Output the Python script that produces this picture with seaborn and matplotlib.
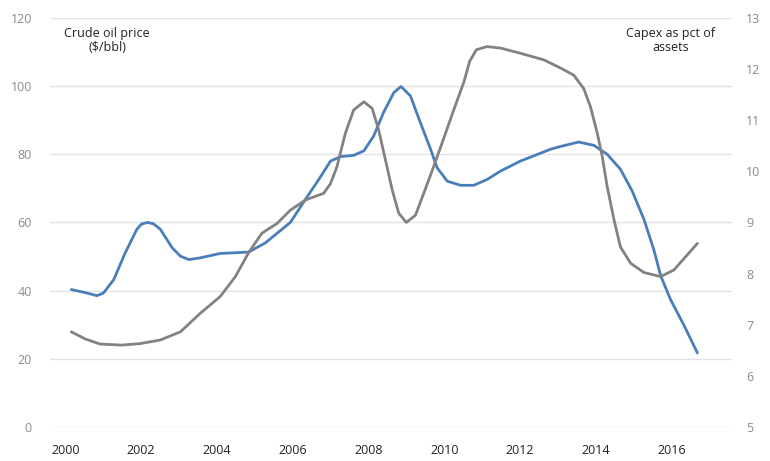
import pandas as pd
import numpy as np
import matplotlib
matplotlib.use("Agg")
import matplotlib.pyplot as plt
import seaborn as sns

# values
oil_year = [2000.16, 2000.53, 2000.84, 2001.01, 2001.28, 2001.58, 2001.89, 2002.01,
            2002.17, 2002.33, 2002.51, 2002.82, 2003.04, 2003.26, 2003.56, 2004.09,
            2004.84, 2005.28, 2005.94, 2006.34, 2006.69, 2007.00, 2007.26, 2007.61,
            2007.88, 2008.14, 2008.40, 2008.67, 2008.86, 2009.11, 2009.37, 2009.64,
            2009.81, 2010.08, 2010.43, 2010.78, 2011.13, 2011.49, 2012.01, 2012.81,
            2013.07, 2013.55, 2013.95, 2014.30, 2014.65, 2014.96, 2015.27, 2015.53,
            2015.71, 2015.97, 2016.34, 2016.68]
oil_price = [40.3, 39.4, 38.5, 39.3, 43.2, 51.0, 58.0, 59.5,
             60.0, 59.6, 58.0, 52.6, 50.1, 49.1, 49.6, 50.9,
             51.3, 54.0, 60.0, 66.8, 72.6, 78.0, 79.3, 79.7,
             81.0, 85.4, 92.3, 98.1, 99.9, 97.1, 89.3, 81.5,
             76.1, 72.1, 70.9, 70.9, 72.6, 75.1, 78.0, 81.5,
             82.3, 83.6, 82.6, 80.0, 75.6, 69.2, 60.9, 52.0,
             44.4, 37.4, 29.5, 21.7]

capex_year = [2000.16, 2000.53, 2000.92, 2001.50, 2001.98, 2002.51, 2003.04, 2003.56,
              2004.09, 2004.49, 2004.84, 2005.19, 2005.59, 2005.94, 2006.34, 2006.82,
              2007.00, 2007.17, 2007.39, 2007.61, 2007.88, 2008.10, 2008.27, 2008.45,
              2008.63, 2008.80, 2009.00, 2009.24, 2009.46, 2009.72, 2009.99, 2010.25,
              2010.52, 2010.67, 2010.85, 2011.13, 2011.49, 2012.01, 2012.63, 2013.07,
              2013.42, 2013.68, 2013.86, 2014.04, 2014.17, 2014.30, 2014.48, 2014.65,
              2014.92, 2015.27, 2015.71, 2016.06, 2016.37, 2016.68]
capex_pct = [6.86, 6.72, 6.62, 6.60, 6.63, 6.70, 6.86, 7.22,
             7.55, 7.94, 8.41, 8.79, 8.98, 9.24, 9.44, 9.57,
             9.76, 10.09, 10.74, 11.20, 11.36, 11.23, 10.81, 10.22,
             9.63, 9.18, 9.00, 9.14, 9.57, 10.09, 10.65, 11.20,
             11.75, 12.15, 12.38, 12.44, 12.41, 12.31, 12.18, 12.02,
             11.88, 11.62, 11.26, 10.74, 10.29, 9.70, 9.05, 8.52,
             8.20, 8.02, 7.94, 8.07, 8.33, 8.59]

left_ticks = [0, 20, 40, 60, 80, 100, 120]
right_ticks = [5, 6, 7, 8, 9, 10, 11, 12, 13]
year_ticks = [2000, 2002, 2004, 2006, 2008, 2010, 2012, 2014, 2016]

oil = pd.DataFrame({"year": oil_year, "price": oil_price})
capex = pd.DataFrame({"year": capex_year, "pct": capex_pct})

sns.set_style("white")
plt.rcParams["font.family"] = ["Open Sans", "DejaVu Sans"]

fig = plt.figure(figsize=(7.7, 4.61), dpi=100)
ax = fig.add_axes([0.065, 0.074, 0.886, 0.887])
ax2 = ax.twinx()

sns.lineplot(data=oil, x="year", y="price", ax=ax, color="#4a7ebb",
             linewidth=2.0, solid_joinstyle="round", solid_capstyle="round")
sns.lineplot(data=capex, x="year", y="pct", ax=ax2, color="#828282",
             linewidth=2.0, solid_joinstyle="round", solid_capstyle="round")

ax.set_xlim(1999.6, 2017.6)
ax.set_ylim(0, 120)
ax2.set_ylim(5, 13)
ax.set_xticks(year_ticks)
ax.set_yticks(left_ticks)
ax2.set_yticks(right_ticks)
ax.set_xlabel("")
ax.set_ylabel("")
ax2.set_ylabel("")

ax.grid(axis="y", color="#e3e3e3", linewidth=1.0)
ax.set_axisbelow(True)
for a in (ax, ax2):
    for s in a.spines.values():
        s.set_visible(False)
    a.tick_params(length=0, labelsize=9, colors="#8a8a8a")
ax.tick_params(axis="x", colors="#222222", pad=12)
ax.tick_params(axis="y", pad=13)
ax2.tick_params(axis="y", pad=10)

fig.text(0.139, 0.912, "Crude oil price\n($/bbl)", ha="center", va="center",
         multialignment="center", fontsize=9, color="#222222", linespacing=1.1)
fig.text(0.871, 0.912, "Capex as pct of\nassets", ha="center", va="center",
         multialignment="center", fontsize=9, color="#222222", linespacing=1.1)

fig.savefig("out.png", dpi=100)
